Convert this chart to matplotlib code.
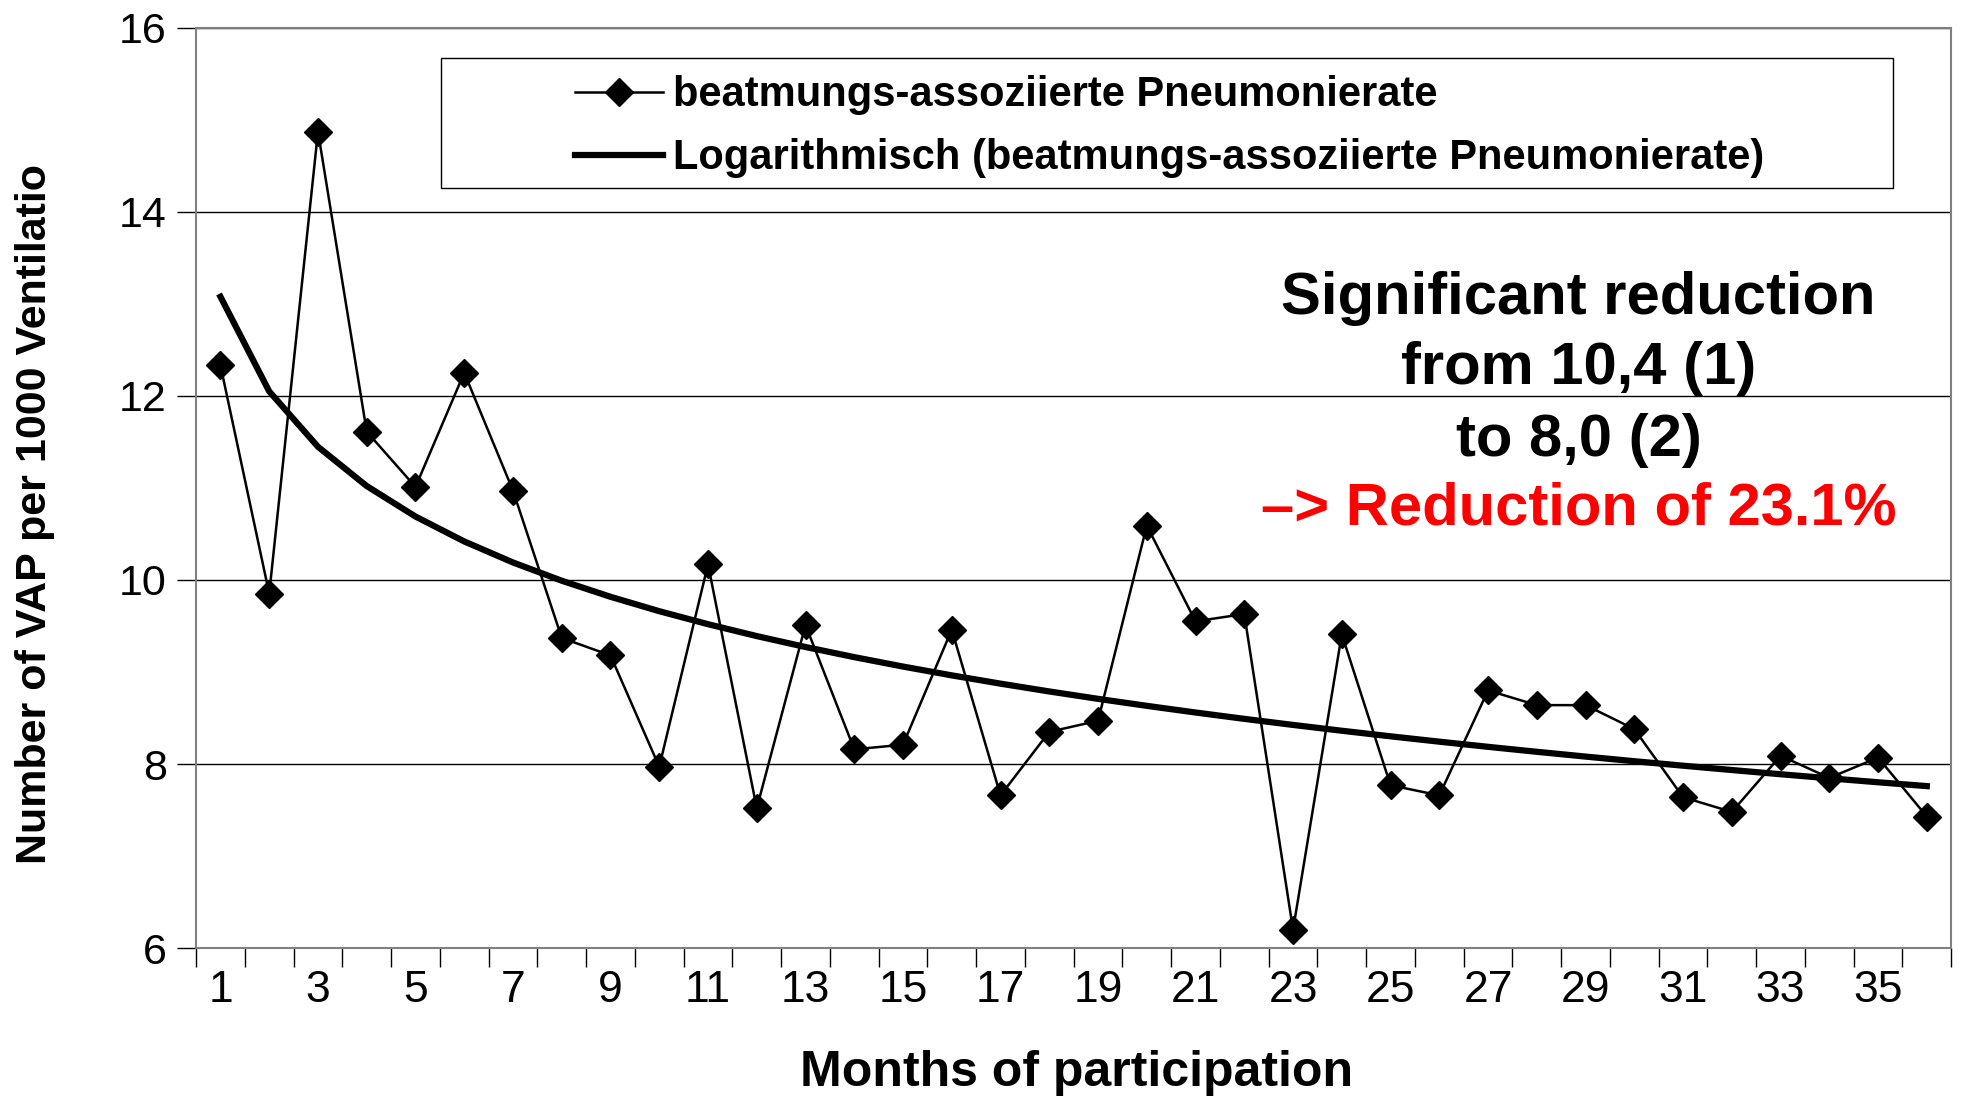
import numpy as np
import matplotlib
matplotlib.use("Agg")
import matplotlib.pyplot as plt
from matplotlib.patches import Rectangle

plt.rcParams['font.family'] = ['Liberation Sans', 'DejaVu Sans']

# monthly VAP rate per 1000 ventilation days
months = np.arange(1, 37)
vap_rate = [12.33, 9.85, 14.87, 11.61, 11.01, 12.25, 10.97, 9.37, 9.18, 7.97,
            10.17, 7.52, 9.51, 8.16, 8.21, 9.46, 7.66, 8.35, 8.47, 10.59,
            9.55, 9.63, 6.20, 9.41, 7.77, 7.66, 8.80, 8.64, 8.64, 8.38,
            7.64, 7.48, 8.09, 7.85, 8.07, 7.43]
tick_labels = [str(m) for m in range(1, 36, 2)]

# logarithmic trend fitted to the monthly rates
b, a = np.polyfit(np.log(months), vap_rate, 1)
trend = a + b * np.log(months)

fig = plt.figure(figsize=(19.61, 11), dpi=100)
ax = fig.add_axes([0.1, 0.138, 0.895, 0.837])

ax.plot(months, vap_rate, color='black', lw=1.8, marker='D', markersize=14,
        label='beatmungs-assoziierte Pneumonierate')
ax.plot(months, trend, color='black', lw=4.5,
        label='Logarithmisch (beatmungs-assoziierte Pneumonierate)')

ax.set_xlim(0.5, 36.5)
ax.set_ylim(6, 16)
ax.set_yticks([6, 8, 10, 12, 14, 16])
ax.yaxis.grid(True, color='black', lw=1)
ax.set_axisbelow(True)

ax.set_xticks(range(1, 36, 2))
ax.set_xticklabels(tick_labels)
ax.set_xticks(np.arange(0.5, 37, 1), minor=True)
ax.tick_params(axis='x', which='major', length=0, pad=16, labelsize=32)
ax.tick_params(axis='x', which='minor', length=14, width=1)
ax.tick_params(axis='y', length=14, width=1, pad=7, labelsize=31)
for s in ax.spines.values():
    s.set_color('#808080')
    s.set_linewidth(1.5)

# legend box drawn separately so the entries can sit well inside it
ax.add_patch(Rectangle((0.1396, 0.8252), 0.8274, 0.1422, transform=ax.transAxes,
                       facecolor='white', edgecolor='black', lw=1, zorder=4))
leg = ax.legend(loc='upper left', bbox_to_anchor=(0.216, 0.948),
                fontsize=30, frameon=False, handlelength=2.1,
                borderpad=0, labelspacing=0.55, handletextpad=0.25,
                borderaxespad=0)
leg.set_zorder(5)
for t in leg.get_texts():
    t.set_fontweight('bold')

lines = ['Significant reduction', 'from 10,4 (1)', 'to 8,0 (2)']
for i, line in enumerate(lines):
    fig.text(0.805, 1 - (298 + 71 * i) / 1100, line, ha='center', va='center',
             fontsize=43, fontweight='bold', color='black')
fig.text(0.805, 1 - 509 / 1100, '\u2013> Reduction of 23.1%', ha='center',
         va='center', fontsize=43, fontweight='bold', color='red')

fig.text(0.549, 0.025, 'Months of participation', ha='center', va='center',
         fontsize=36, fontweight='bold')
fig.text(0.018, 0.533, 'Number of VAP per 1000 Ventilatio', ha='center',
         va='center', rotation=90, fontsize=31, fontweight='bold')

fig.savefig('out.png', dpi=100)
